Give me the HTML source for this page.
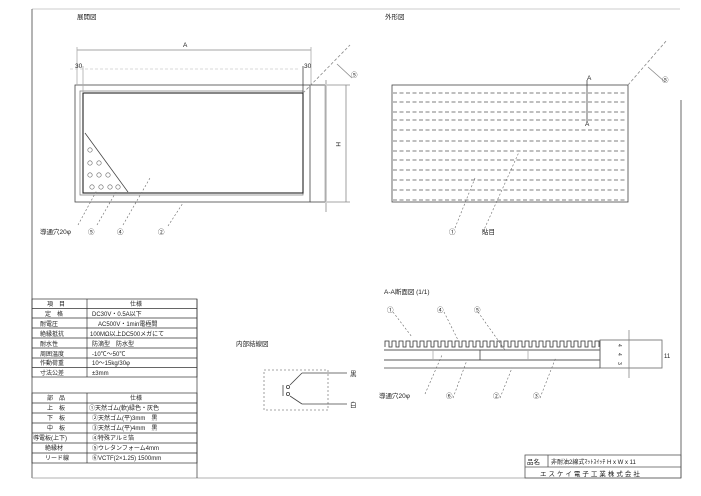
<!DOCTYPE html>
<html><head><meta charset="utf-8"><style>
html,body{margin:0;padding:0;background:#fff;}
svg{display:block;}
text{font-family:"Liberation Sans","Noto Sans CJK JP",sans-serif;fill:#222;}
</style></head><body>
<svg width="701" height="496" viewBox="0 0 701 496" xmlns="http://www.w3.org/2000/svg">
<g stroke="#444" fill="none" stroke-width="0.8">
<line x1="32" y1="9" x2="680" y2="9" stroke="#bbb"/>
<line x1="32" y1="9" x2="32" y2="478"/>
<line x1="681" y1="100" x2="681" y2="478"/>
<line x1="32" y1="478" x2="681" y2="478" stroke="#999"/>
<rect x="75" y="85" width="235" height="117"/>
<rect x="80" y="91" width="223" height="104" stroke="#888"/>
<rect x="83" y="93" width="220" height="100" stroke="#222" stroke-width="1.1"/>
<line x1="310" y1="85" x2="325" y2="85"/>
<line x1="310" y1="202" x2="325" y2="202"/>
<line x1="325" y1="85" x2="325" y2="202" stroke="#aaa"/>
<line x1="77" y1="50" x2="311" y2="50" stroke="#888"/>
<line x1="77" y1="47" x2="77" y2="85" stroke="#aaa"/>
<line x1="311" y1="47" x2="311" y2="85" stroke="#aaa"/>
<line x1="70" y1="69" x2="300" y2="69" stroke="#ccc" stroke-dasharray="3 2"/>
<line x1="83" y1="66" x2="83" y2="93" stroke="#aaa"/>
<line x1="303" y1="66" x2="303" y2="93"/>
<line x1="303" y1="93" x2="350" y2="45" stroke-dasharray="3 2" stroke="#888"/>
<line x1="337" y1="64" x2="352" y2="78" stroke="#888"/>
<line x1="346" y1="85" x2="346" y2="202" stroke="#888"/>
<line x1="327" y1="85" x2="350" y2="85" stroke="#888"/>
<line x1="327" y1="202" x2="350" y2="202" stroke="#888"/>
<line x1="326" y1="80" x2="326" y2="212" stroke="#888"/>
<line x1="85" y1="133" x2="128" y2="192"/>
<g stroke="#666" stroke-width="0.6">
<circle cx="90" cy="150" r="2.2"/><circle cx="90" cy="163" r="2.2"/><circle cx="99" cy="163" r="2.2"/>
<circle cx="90" cy="175" r="2.2"/><circle cx="99" cy="175" r="2.2"/><circle cx="108" cy="175" r="2.2"/>
<circle cx="92" cy="187" r="2.2"/><circle cx="101" cy="187" r="2.2"/><circle cx="110" cy="187" r="2.2"/><circle cx="118" cy="187" r="2.2"/>
</g>
<g stroke="#666" stroke-dasharray="2 2" stroke-width="0.6">
<line x1="78" y1="225" x2="97" y2="190"/><line x1="97" y1="225" x2="116" y2="192"/>
<line x1="123" y1="225" x2="150" y2="178"/><line x1="168" y1="226" x2="183" y2="203"/>
</g>
<rect x="392" y="85" width="236" height="117"/>
<g stroke-dasharray="4 2.5" stroke="#555" stroke-width="0.7">
<line x1="393" y1="93" x2="627" y2="93"/><line x1="393" y1="102" x2="627" y2="102"/>
<line x1="393" y1="112" x2="627" y2="112"/><line x1="393" y1="120" x2="627" y2="120"/>
<line x1="393" y1="130" x2="627" y2="130"/><line x1="393" y1="141" x2="627" y2="141"/>
<line x1="393" y1="151" x2="627" y2="151"/><line x1="393" y1="160" x2="627" y2="160"/>
<line x1="393" y1="170" x2="627" y2="170"/><line x1="393" y1="180" x2="627" y2="180"/>
<line x1="393" y1="190" x2="627" y2="190"/><line x1="393" y1="200" x2="627" y2="200"/>
</g>
<line x1="587" y1="80" x2="587" y2="122"/>
<line x1="628" y1="85" x2="667" y2="40" stroke-dasharray="3 2" stroke="#888"/>
<line x1="648" y1="67" x2="665" y2="82" stroke="#888"/>
<g stroke="#666" stroke-dasharray="2 2" stroke-width="0.6">
<line x1="455" y1="228" x2="475" y2="178"/><line x1="483" y1="232" x2="519" y2="152"/>
</g>
<g stroke="#333" stroke-width="0.7">
<rect x="32" y="299" width="165" height="78"/>
<line x1="87" y1="299" x2="87" y2="377"/>
<line x1="32" y1="308.5" x2="197" y2="308.5"/><line x1="32" y1="318" x2="197" y2="318"/>
<line x1="32" y1="328" x2="197" y2="328"/><line x1="32" y1="338" x2="197" y2="338"/>
<line x1="32" y1="348" x2="197" y2="348"/><line x1="32" y1="358" x2="197" y2="358"/>
<line x1="32" y1="367.5" x2="197" y2="367.5"/>
<rect x="32" y="393" width="165" height="70"/>
<line x1="87" y1="393" x2="87" y2="463"/>
<line x1="32" y1="403" x2="197" y2="403"/><line x1="32" y1="413" x2="197" y2="413"/>
<line x1="32" y1="423" x2="197" y2="423"/><line x1="32" y1="433" x2="197" y2="433"/>
<line x1="32" y1="443" x2="197" y2="443"/><line x1="32" y1="453" x2="197" y2="453"/>
<line x1="197" y1="299" x2="197" y2="478"/>
</g>
<rect x="264" y="370" width="64" height="40" stroke-dasharray="2 2" stroke="#888"/>
<line x1="283" y1="385" x2="283" y2="396"/>
<circle cx="288" cy="387" r="1.6"/><circle cx="288" cy="394" r="1.6"/>
<line x1="290" y1="385" x2="302" y2="373"/><line x1="302" y1="373" x2="347" y2="373"/>
<line x1="290" y1="396" x2="302" y2="404"/><line x1="302" y1="404" x2="347" y2="404"/>
<path d="M385 347 L385 341 L389 341 L389 347 L392 347 L392 341 L396 341 L396 347 L399 347 L399 341 L403 341 L403 347 L406 347 L406 341 L410 341 L410 347 L413 347 L413 341 L417 341 L417 347 L420 347 L420 341 L424 341 L424 347 L427 347 L427 341 L431 341 L431 347 L434 347 L434 341 L438 341 L438 347 L441 347 L441 341 L445 341 L445 347 L448 347 L448 341 L452 341 L452 347 L455 347 L455 341 L459 341 L459 347 L462 347 L462 341 L466 341 L466 347 L469 347 L469 341 L473 341 L473 347 L476 347 L476 341 L480 341 L480 347 L483 347 L483 341 L487 341 L487 347 L490 347 L490 341 L494 341 L494 347 L497 347 L497 341 L501 341 L501 347 L504 347 L504 341 L508 341 L508 347 L511 347 L511 341 L515 341 L515 347 L518 347 L518 341 L522 341 L522 347 L525 347 L525 341 L529 341 L529 347 L532 347 L532 341 L536 341 L536 347 L539 347 L539 341 L543 341 L543 347 L546 347 L546 341 L550 341 L550 347 L553 347 L553 341 L557 341 L557 347 L560 347 L560 341 L564 341 L564 347 L567 347 L567 341 L571 341 L571 347 L574 347 L574 341 L578 341 L578 347 L581 347 L581 341 L585 341 L585 347 L588 347 L588 341 L592 341 L592 347 L595 347 L595 341 L599 341 L599 347" stroke="#333"/>
<line x1="384" y1="350" x2="600" y2="350" stroke="#222"/>
<line x1="384" y1="360" x2="600" y2="360" stroke="#222"/>
<line x1="384" y1="368" x2="600" y2="368"/>
<line x1="433" y1="350" x2="433" y2="360" stroke="#aaa"/>
<line x1="480" y1="350" x2="480" y2="360"/>
<line x1="528" y1="350" x2="528" y2="360" stroke="#aaa"/>
<line x1="600" y1="340" x2="600" y2="368"/>
<rect x="600" y="340" width="62" height="28" stroke="#666"/>
<line x1="629" y1="330" x2="629" y2="378" stroke="#888"/>
<line x1="662" y1="340" x2="662" y2="368" stroke="#888"/>
<g stroke="#666" stroke-dasharray="2 2" stroke-width="0.6">
<line x1="393" y1="312" x2="412" y2="337"/><line x1="444" y1="312" x2="460" y2="344"/>
<line x1="478" y1="312" x2="505" y2="350"/><line x1="425" y1="394" x2="442" y2="355"/>
<line x1="453" y1="398" x2="467" y2="360"/><line x1="500" y1="398" x2="512" y2="368"/>
<line x1="540" y1="398" x2="556" y2="357"/>
</g>
<rect x="525" y="455" width="156" height="23" stroke="#555"/>
<line x1="525" y1="467" x2="681" y2="467" stroke="#555"/>
<line x1="548" y1="455" x2="548" y2="467" stroke="#555"/>
</g>
<g font-size="6.5">
<text x="77" y="19">展開図</text>
<text x="385" y="19">外形図</text>
<text x="183" y="47">A</text>
<text x="75" y="68">30</text><text x="304" y="68">30</text>
<text x="351" y="77">⑤</text><text x="662" y="82">⑤</text>
<text x="336" y="142" transform="rotate(90 336 142)">H</text>
<text x="40" y="234">導通穴20φ</text>
<text x="88" y="234">⑤</text><text x="117" y="234">④</text><text x="158" y="234">②</text>
<text x="449" y="234">①</text><text x="482" y="234">貼目</text>
<text x="587" y="80">A</text><text x="585" y="126">A</text>
<text x="384" y="294">A-A断面図 (1/1)</text>
<text x="387" y="312">①</text><text x="437" y="312">④</text><text x="474" y="312">⑤</text>
<text x="379" y="398">導通穴20φ</text><text x="446" y="398">⑥</text><text x="493" y="398">②</text><text x="533" y="398">③</text>
<text x="236" y="346">内部結線図</text>
<text x="350" y="376">黒</text><text x="350" y="407">白</text>
<text x="527" y="464">品名</text>
<text x="551" y="464" font-size="6">非耐油2線式ﾏｯﾄｽｲｯﾁ H x W x 11</text>
<text x="540" y="476" letter-spacing="2">エスケイ電子工業株式会社</text>
<text x="664" y="358" font-size="6">11</text>
<text x="618" y="344" font-size="5" transform="rotate(90 618 344)">4</text>
<text x="618" y="353" font-size="5" transform="rotate(90 618 353)">4</text>
<text x="618" y="362" font-size="5" transform="rotate(90 618 362)">3</text>
</g>
<g font-size="6">
<text x="47" y="306">項　目</text><text x="130" y="306">仕様</text>
<text x="45" y="316">定　格</text><text x="92" y="316">DC30V・0.5A以下</text>
<text x="40" y="326">耐電圧</text><text x="98" y="326">AC500V・1min電極間</text>
<text x="40" y="336">絶縁抵抗</text><text x="90" y="336">100MΩ以上DC500メガにて</text>
<text x="40" y="346">耐水性</text><text x="92" y="346">防滴型　防水型</text>
<text x="40" y="356">周囲温度</text><text x="92" y="356">-10℃～50℃</text>
<text x="40" y="365">作動荷重</text><text x="92" y="365">10～15kg/30φ</text>
<text x="40" y="375">寸法公差</text><text x="92" y="375">±3mm</text>
<text x="47" y="400">部　品</text><text x="130" y="400">仕様</text>
<text x="47" y="410">上　板</text><text x="89" y="410">①天然ゴム(軟)緑色・灰色</text>
<text x="47" y="420">下　板</text><text x="92" y="420">②天然ゴム(平)3mm　黒</text>
<text x="47" y="430">中　板</text><text x="92" y="430">③天然ゴム(平)4mm　黒</text>
<text x="33" y="440">導電板(上下)</text><text x="92" y="440">④特殊アルミ箔</text>
<text x="45" y="450">絶縁材</text><text x="92" y="450">⑤ウレタンフォーム4mm</text>
<text x="45" y="460">リード線</text><text x="92" y="460">⑥VCTF(2×1.25) 1500mm</text>
</g>
</svg>
</body></html>
